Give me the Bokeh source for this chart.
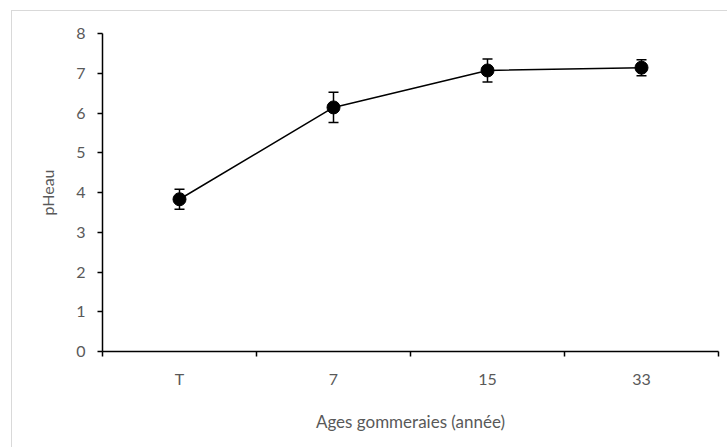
from bokeh.plotting import figure
from bokeh.models import ColumnDataSource, Range1d, FixedTicker, Whisker, TeeHead
from bokeh.embed import file_html
from bokeh.resources import INLINE

# ---- data ----
categories = ["T", "7", "15", "33"]
ph_values = [3.83, 6.14, 7.07, 7.14]
ph_sd = [0.25, 0.38, 0.29, 0.20]
y_ticks = [0, 1, 2, 3, 4, 5, 6, 7, 8]
x_title = "Ages gommeraies (année)"
y_title = "pHeau"

FONT = "Lato"
GRAY = "#595959"

xs = [i + 0.5 for i in range(len(categories))]
src = ColumnDataSource(dict(
    x=xs, y=ph_values,
    lower=[v - s for v, s in zip(ph_values, ph_sd)],
    upper=[v + s for v, s in zip(ph_values, ph_sd)],
))

p = figure(width=716, height=437, output_backend="svg", toolbar_location=None,
           x_range=Range1d(0, len(categories)), y_range=Range1d(0, 8),
           min_border_left=90, min_border_right=10, min_border_top=22,
           min_border_bottom=97)
p.styles = {"margin-left": "11px", "margin-top": "10px",
            "border-left": "1px solid #d9d9d9", "border-top": "1px solid #d9d9d9"}
p.outline_line_color = None
p.xgrid.visible = False
p.ygrid.visible = False
p.background_fill_color = "white"
p.border_fill_color = "white"

# x axis: labels at category centres, ticks at boundaries
p.xaxis.ticker = FixedTicker(ticks=xs, minor_ticks=list(range(len(categories) + 1)))
p.xaxis.major_label_overrides = {x: c for x, c in zip(xs, categories)}
p.xaxis.major_tick_line_color = None
p.xaxis.minor_tick_out = 5
p.xaxis.minor_tick_in = 0
p.xaxis.minor_tick_line_color = "black"
p.xaxis.minor_tick_line_width = 1.5
p.xaxis.axis_line_color = "black"
p.xaxis.axis_line_width = 1.5
p.xaxis.major_label_standoff = 11
p.xaxis.axis_label = x_title
p.xaxis.axis_label_standoff = 20

# y axis
p.yaxis.ticker = FixedTicker(ticks=y_ticks, minor_ticks=[])
p.yaxis.major_tick_out = 5
p.yaxis.major_tick_in = 0
p.yaxis.major_tick_line_color = "black"
p.yaxis.major_tick_line_width = 1.5
p.yaxis.axis_line_color = "black"
p.yaxis.axis_line_width = 1.5
p.yaxis.major_label_standoff = 12
p.yaxis.axis_label = y_title
p.yaxis.axis_label_standoff = 16

for ax in (p.xaxis, p.yaxis):
    ax.major_label_text_font = FONT
    ax.major_label_text_font_size = "16px"
    ax.major_label_text_color = GRAY
    ax.axis_label_text_font = FONT
    ax.axis_label_text_font_size = "16px"
    ax.axis_label_text_font_style = "normal"
    ax.axis_label_text_color = GRAY
p.xaxis.axis_label_text_font_size = "17px"

# series
p.line("x", "y", source=src, line_color="black", line_width=1.5)
p.add_layout(Whisker(base="x", lower="lower", upper="upper", source=src,
                     line_color="black", line_width=1.5,
                     upper_head=TeeHead(size=10, line_color="black", line_width=1.5),
                     lower_head=TeeHead(size=10, line_color="black", line_width=1.5)))
p.scatter("x", "y", source=src, size=13, fill_color="black", line_color="black")

open("out.html", "w").write(file_html(p, INLINE))
